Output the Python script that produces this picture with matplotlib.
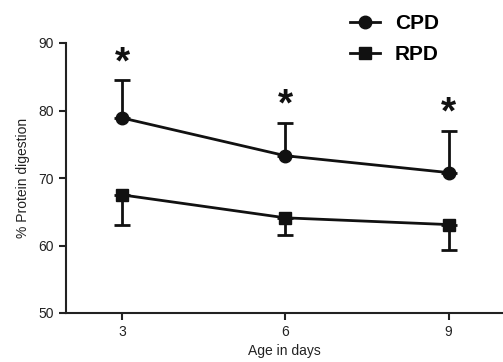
import matplotlib
matplotlib.use("Agg")
import matplotlib.pyplot as plt

plt.rcParams['font.family'] = ['Liberation Sans', 'DejaVu Sans']

ages = [3, 6, 9]
cpd = [78.9, 73.3, 70.8]
cpd_err = [5.6, 4.9, 6.2]
rpd = [67.5, 64.1, 63.1]
rpd_err = [4.4, 2.5, 3.8]
sig = ['*', '*', '*']

fig = plt.figure(figsize=(5.03, 3.62), dpi=100)
ax = fig.add_axes([66/503, 49/362, 1 - 66/503, (313-43)/362])

ax.errorbar(ages, cpd, yerr=[[0]*3, cpd_err], fmt='-o', color='#111111', lw=2,
            ms=9, capsize=5.8, capthick=2, elinewidth=2, label='CPD', zorder=3)
ax.errorbar(ages, rpd, yerr=[rpd_err, [0]*3], fmt='-s', color='#111111', lw=2,
            ms=8.5, capsize=5.8, capthick=2, elinewidth=2, label='RPD', zorder=3)

for x, y, e, s in zip(ages, cpd, cpd_err, sig):
    ax.annotate(s, (x, y + e), xytext=(0, 5), textcoords='offset points',
                ha='center', va='baseline', fontsize=28, fontweight='bold',
                color='#111111')

ax.set_xlim(1.97, 10.0)
ax.set_ylim(50, 90)
ax.set_xticks(ages)
ax.set_yticks([50, 60, 70, 80, 90])
for s in ['top', 'right']:
    ax.spines[s].set_visible(False)
for s in ['left', 'bottom']:
    ax.spines[s].set_linewidth(1.5)
    ax.spines[s].set_color('#222222')
ax.tick_params(width=1.5, length=5, labelsize=10, color='#222222', labelcolor='#222222')
ax.set_xlabel('Age in days', fontsize=10, color='#222222', labelpad=4)
ax.set_ylabel('% Protein digestion', fontsize=10, color='#222222', labelpad=6)

handles, labels = ax.get_legend_handles_labels()
handles = [h[0] for h in handles]
leg = fig.legend(handles, labels, loc='upper left', bbox_to_anchor=(350/503, 1 - 14/362),
                 frameon=False, prop={'size': 15, 'weight': 'bold'},
                 handlelength=1.44, handletextpad=0.72, labelspacing=0.6,
                 borderaxespad=0, borderpad=0)

fig.savefig('out.png', dpi=100)
